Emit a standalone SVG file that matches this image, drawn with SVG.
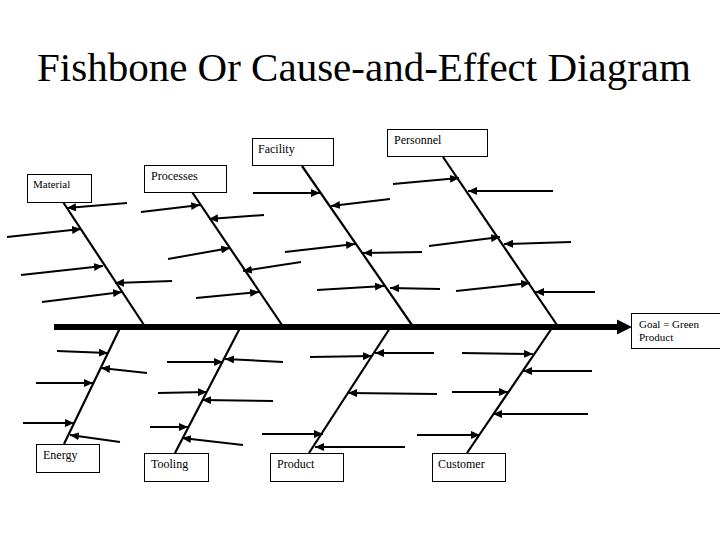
<svg xmlns="http://www.w3.org/2000/svg" width="720" height="540" viewBox="0 0 720 540">
<style>
.box{fill:#fff;stroke:#000;stroke-width:1}
.bone{stroke:#000;stroke-width:2.2;fill:none}
.rib{stroke:#000;stroke-width:2;fill:none;marker-end:url(#ah)}
</style>
<defs>
<marker id="ah" markerUnits="userSpaceOnUse" markerWidth="10" markerHeight="8" refX="9" refY="4" orient="auto">
<path d="M0,0 L9,4 L0,8 z" fill="#000"/>
</marker>
</defs>
<rect width="720" height="540" fill="#fff"/>
<g id="title">
<text x="37" y="81" font-family="Liberation Serif" font-size="41">Fishbone Or Cause-and-Effect Diagram</text>
</g>
<g id="connectors">
<line x1="54" y1="327" x2="619" y2="327" stroke="#000" stroke-width="6"/>
<path d="M617,319.5 L632,327 L617,334.5 z" fill="#000"/>
<line class="bone" x1="63" y1="202" x2="144" y2="325"/>
<line class="bone" x1="192" y1="192" x2="282" y2="325"/>
<line class="bone" x1="302" y1="166" x2="412" y2="325"/>
<line class="bone" x1="443" y1="157" x2="557" y2="325"/>
<line class="bone" x1="120" y1="328" x2="64" y2="444"/>
<line class="bone" x1="240" y1="328" x2="175" y2="453"/>
<line class="bone" x1="390" y1="328" x2="309" y2="453"/>
<line class="bone" x1="552" y1="328" x2="467" y2="453"/>
<line class="rib" x1="127" y1="203" x2="67" y2="208"/>
<line class="rib" x1="7" y1="237" x2="81" y2="229"/>
<line class="rib" x1="21" y1="275" x2="103" y2="266"/>
<line class="rib" x1="172" y1="281" x2="115" y2="283"/>
<line class="rib" x1="42" y1="302" x2="122" y2="292"/>
<line class="rib" x1="141" y1="212" x2="200" y2="205"/>
<line class="rib" x1="264" y1="215" x2="209" y2="219"/>
<line class="rib" x1="168" y1="259" x2="230" y2="248"/>
<line class="rib" x1="301" y1="262" x2="243" y2="271"/>
<line class="rib" x1="196" y1="298" x2="259" y2="292"/>
<line class="rib" x1="253" y1="193" x2="320" y2="193"/>
<line class="rib" x1="390" y1="199" x2="331" y2="206"/>
<line class="rib" x1="285" y1="252" x2="355" y2="244"/>
<line class="rib" x1="422" y1="252" x2="363" y2="253"/>
<line class="rib" x1="317" y1="290" x2="384" y2="286"/>
<line class="rib" x1="440" y1="289" x2="390" y2="288"/>
<line class="rib" x1="393" y1="184" x2="459" y2="178"/>
<line class="rib" x1="553" y1="191" x2="468" y2="191"/>
<line class="rib" x1="429" y1="246" x2="500" y2="237"/>
<line class="rib" x1="571" y1="242" x2="504" y2="244"/>
<line class="rib" x1="456" y1="291" x2="530" y2="283"/>
<line class="rib" x1="595" y1="292" x2="535" y2="292"/>
<line class="rib" x1="57" y1="351" x2="108" y2="353"/>
<line class="rib" x1="147" y1="373" x2="101" y2="368"/>
<line class="rib" x1="36" y1="383" x2="93" y2="383"/>
<line class="rib" x1="23" y1="423" x2="74" y2="423"/>
<line class="rib" x1="120" y1="442" x2="70" y2="435"/>
<line class="rib" x1="167" y1="362" x2="223" y2="362"/>
<line class="rib" x1="283" y1="362" x2="225" y2="359"/>
<line class="rib" x1="158" y1="393" x2="207" y2="392"/>
<line class="rib" x1="273" y1="401" x2="202" y2="400"/>
<line class="rib" x1="150" y1="427" x2="188" y2="427"/>
<line class="rib" x1="243" y1="445" x2="182" y2="438"/>
<line class="rib" x1="310" y1="357" x2="372" y2="356"/>
<line class="rib" x1="434" y1="353" x2="375" y2="353"/>
<line class="rib" x1="437" y1="394" x2="348" y2="393"/>
<line class="rib" x1="262" y1="434" x2="323" y2="434"/>
<line class="rib" x1="405" y1="447" x2="315" y2="447"/>
<line class="rib" x1="462" y1="353" x2="533" y2="354"/>
<line class="rib" x1="592" y1="371" x2="523" y2="371"/>
<line class="rib" x1="452" y1="392" x2="508" y2="392"/>
<line class="rib" x1="588" y1="414" x2="493" y2="414"/>
<line class="rib" x1="417" y1="435" x2="480" y2="435"/>
</g>
<g id="material"><rect class="box" x="27.5" y="174.5" width="64" height="28"/><text x="33" y="188" font-family="Liberation Serif" font-size="11">Material</text></g>
<g id="processes"><rect class="box" x="144.5" y="165.5" width="82" height="27"/><text x="151" y="180" font-family="Liberation Serif" font-size="12">Processes</text></g>
<g id="facility"><rect class="box" x="252.5" y="138.5" width="81" height="27"/><text x="258" y="153" font-family="Liberation Serif" font-size="12">Facility</text></g>
<g id="personnel"><rect class="box" x="387.5" y="129.5" width="100" height="27"/><text x="394" y="144" font-family="Liberation Serif" font-size="12">Personnel</text></g>
<g id="energy"><rect class="box" x="36.5" y="444.5" width="63" height="28"/><text x="43" y="459" font-family="Liberation Serif" font-size="12">Energy</text></g>
<g id="tooling"><rect class="box" x="144.5" y="453.5" width="64" height="28"/><text x="151" y="468" font-family="Liberation Serif" font-size="12">Tooling</text></g>
<g id="product"><rect class="box" x="270.5" y="453.5" width="73" height="28"/><text x="277" y="468" font-family="Liberation Serif" font-size="12">Product</text></g>
<g id="customer"><rect class="box" x="432.5" y="453.5" width="73" height="28"/><text x="438" y="468" font-family="Liberation Serif" font-size="12">Customer</text></g>
<g id="goal"><rect class="box" x="631.5" y="313.5" width="90" height="35"/><text x="639" y="328" font-family="Liberation Serif" font-size="11">Goal = Green</text><text x="639" y="341" font-family="Liberation Serif" font-size="11">Product</text></g>
</svg>
